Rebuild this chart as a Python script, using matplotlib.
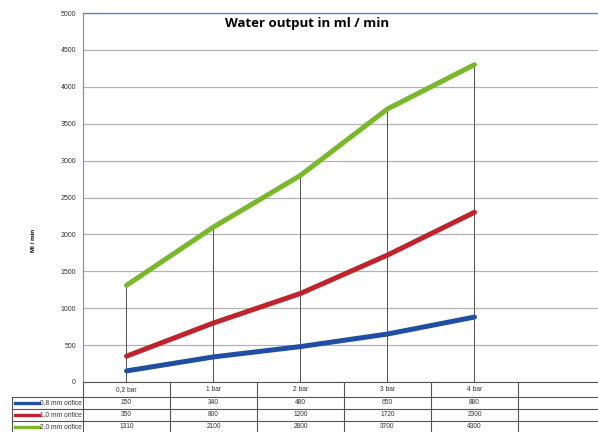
import matplotlib.pyplot as plt
from matplotlib.transforms import blended_transform_factory

categories = ["0,2 bar", "1 bar", "2 bar", "3 bar", "4 bar", ""]
series_names = ["0,8 mm orifice", "1,0 mm orifice", "2,0 mm orifice"]
orifice_08 = [150, 340, 480, 650, 880]
orifice_10 = [350, 800, 1200, 1720, 2300]
orifice_20 = [1310, 2100, 2800, 3700, 4300]
y_ticks = list(range(0, 5001, 500))

colors = ["#1f4ea3", "#c0232b", "#78b82a"]
font = "Liberation Sans"


def main():
    fig = plt.figure(figsize=(5.98, 4.32), dpi=100)
    W, H = 598, 432
    left, right, top, bottom = 83, 605, 13, 382
    ax = fig.add_axes([left / W, (H - bottom) / H, (right - left) / W, (bottom - top) / H])
    ax_h = bottom - top
    col_px = (right - left) / len(categories)

    series = [orifice_08, orifice_10, orifice_20]
    xs = list(range(len(orifice_08)))

    ax.set_xlim(-0.5, len(categories) - 0.5)
    ax.set_ylim(0, 5000)
    ax.set_yticks(y_ticks)
    ax.set_yticklabels([str(v) for v in y_ticks], fontsize=5, family=font, color="#333333")
    ax.tick_params(axis="y", length=0, pad=5)
    ax.set_xticks([])
    ax.grid(axis="y", color="#b3b3b3", linewidth=0.9)
    ax.set_axisbelow(True)

    ax.spines["right"].set_visible(False)
    ax.spines["top"].set_color("#4f7fc0")
    ax.spines["top"].set_linewidth(0.9)
    ax.spines["left"].set_color("#8096bf")
    ax.spines["left"].set_linewidth(0.9)
    ax.spines["bottom"].set_color("#555555")
    ax.spines["bottom"].set_linewidth(0.8)

    # drop lines
    ax.vlines(xs, 0, orifice_20, color="#505050", linewidth=0.7, zorder=2)

    for vals, c in zip(series, colors):
        ax.plot(xs, vals, color=c, linewidth=3.6, solid_capstyle="round", zorder=3)

    ax.text(0.43, 0.972, "Water output in ml / min", transform=ax.transAxes,
            ha="center", va="center", fontsize=9.5, fontweight="bold", family="Open Sans")
    ax.text((33 - left) / (right - left), (bottom - 240) / ax_h, "Ml / min",
            transform=ax.transAxes, rotation=90, ha="center", va="center",
            fontsize=4.5, fontweight="bold", family=font)

    # data table
    tr = blended_transform_factory(ax.transData, ax.transAxes)
    rows_px = [0, 15, 27, 39, 51]
    rows = [-p / ax_h for p in rows_px]
    x0, x1 = -0.5, len(categories) - 0.5
    leg_x = -0.5 - (left - 12) / col_px
    line_kw = dict(color="#555555", linewidth=0.8, clip_on=False, transform=tr)

    for y in rows[1:]:
        ax.plot([leg_x, x1], [y, y], **line_kw)
    for i in range(len(categories) + 1):
        ax.plot([x0 + i, x0 + i], [rows[0], rows[-1]], **line_kw)
    ax.plot([leg_x, leg_x], [rows[1], rows[-1]], **line_kw)

    for i, cat in enumerate(categories):
        ax.text(i, (rows[0] + rows[1]) / 2, cat, transform=tr, ha="center", va="center",
                fontsize=4.8, family=font, color="#333333")
    for r, (name, vals, c) in enumerate(zip(series_names, series, colors)):
        yc = (rows[r + 1] + rows[r + 2]) / 2
        ax.plot([-0.5 - 68 / col_px, -0.5 - 44 / col_px], [yc, yc], color=c,
                linewidth=2.4, clip_on=False, transform=tr)
        ax.text(-0.5 - 43 / col_px, yc, name, transform=tr, ha="left", va="center",
                fontsize=4.8, family=font, color="#333333")
        for i, v in enumerate(vals):
            ax.text(i, yc, str(v), transform=tr, ha="center", va="center",
                    fontsize=4.8, family=font, color="#333333")

    fig.savefig("out.png", dpi=100)


if __name__ == "__main__":
    main()
